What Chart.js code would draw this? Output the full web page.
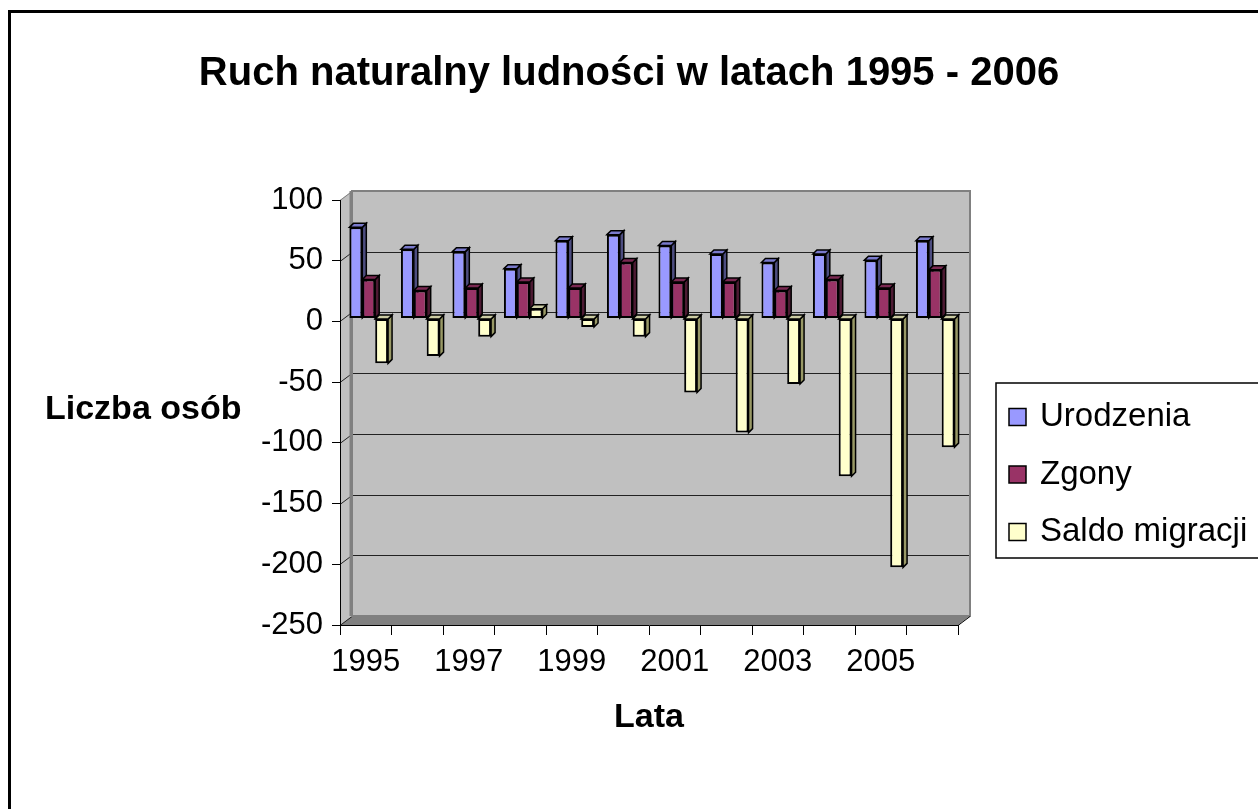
<!DOCTYPE html>
<html>
<head>
<meta charset="utf-8">
<script src="https://cdn.jsdelivr.net/npm/chart.js@4"></script>
<style>
html,body{margin:0;padding:0;background:#fff;overflow:hidden}
canvas{display:block}
</style>
</head>
<body>
<canvas id="c" width="1258" height="809" style="width:1258px;height:809px"></canvas>
<script>
// ---- data ----
const categories = ['1995','1996','1997','1998','1999','2000','2001','2002','2003','2004','2005','2006'];
const urodzenia = [75, 57, 55, 41, 64, 69, 60, 53, 46, 53, 48, 64];
const zgony = [32, 23, 25, 30, 25, 46, 30, 30, 23, 32, 25, 40];
const saldoMigracji = [-37, -31, -15, 8, -7, -15, -61, -94, -54, -130, -205, -106];
const seriesNames = ['Urodzenia', 'Zgony', 'Saldo migracji'];
const yMin = -250, yMax = 100, yStep = 50;
const titleText = 'Ruch naturalny ludności w latach 1995 - 2006';
const xTitleText = 'Lata';
const yTitleText = 'Liczba osób';

// ---- style ----
const FONT = "'Liberation Sans', Arial, sans-serif";
const frontColors = ['#9999ff', '#993366', '#ffffcc'];
const sideColors = ['#4d4d80', '#4d1a33', '#999966'];
const topColors = ['#7a7acc', '#7a2952', '#cccca3'];
const WALL = {dx: 12, dy: -9};
const BAR3D = {dx: 4, dy: -4, shiftX: 3, shiftY: -3};

const frame3d = {
  id: 'frame3d',
  beforeDraw(chart) {
    const ctx = chart.ctx;
    const a = chart.chartArea;
    const ys = chart.scales.y;
    ctx.save();
    ctx.fillStyle = '#fff';
    ctx.fillRect(0, 0, chart.width, chart.height);
    // outer frame (left & top visible)
    ctx.fillStyle = '#000';
    ctx.fillRect(8, 10, chart.width, 3);
    ctx.fillRect(8, 10, 3, chart.height);
    // left wall
    ctx.fillStyle = '#c0c0c0';
    ctx.beginPath();
    ctx.moveTo(a.left, a.top);
    ctx.lineTo(a.left + WALL.dx, a.top + WALL.dy);
    ctx.lineTo(a.left + WALL.dx, a.bottom + WALL.dy);
    ctx.lineTo(a.left, a.bottom);
    ctx.closePath();
    ctx.fill();
    // back wall
    ctx.fillRect(a.left + WALL.dx, a.top + WALL.dy, a.right - a.left, a.bottom - a.top);
    // floor
    ctx.fillStyle = '#808080';
    ctx.beginPath();
    ctx.moveTo(a.left, a.bottom);
    ctx.lineTo(a.left + WALL.dx, a.bottom + WALL.dy);
    ctx.lineTo(a.right + WALL.dx, a.bottom + WALL.dy);
    ctx.lineTo(a.right, a.bottom);
    ctx.closePath();
    ctx.fill();
    // gridlines on back wall + left wall diagonals
    ctx.lineWidth = 1;
    ys.ticks.forEach(t => {
      const y = Math.round(ys.getPixelForValue(t.value)) + 0.5;
      if (t.value > yMin && t.value < yMax) {
        ctx.strokeStyle = '#222';
        ctx.beginPath();
        ctx.moveTo(a.left + WALL.dx, y + WALL.dy);
        ctx.lineTo(a.right + WALL.dx, y + WALL.dy);
        ctx.stroke();
      }
      ctx.strokeStyle = t.value === yMax ? '#808080' : '#222';
      ctx.beginPath();
      ctx.moveTo(a.left, y);
      ctx.lineTo(a.left + WALL.dx, y + WALL.dy);
      ctx.stroke();
    });
    // wall outlines
    ctx.strokeStyle = '#808080';
    ctx.lineWidth = 2;
    ctx.strokeRect(a.left + WALL.dx, a.top + WALL.dy, a.right - a.left, a.bottom - a.top);
    ctx.lineWidth = 3;
    ctx.beginPath();
    ctx.moveTo(a.left + WALL.dx - 1, a.top + WALL.dy);
    ctx.lineTo(a.left + WALL.dx - 1, a.bottom + WALL.dy);
    ctx.stroke();
    // right end of floor edge
    ctx.strokeStyle = '#000';
    ctx.lineWidth = 1;
    ctx.beginPath();
    ctx.moveTo(a.right, a.bottom + 0.5);
    ctx.lineTo(a.right + WALL.dx, a.bottom + WALL.dy + 0.5);
    ctx.stroke();
    ctx.restore();
  },
  beforeDatasetsDraw(chart) {
    const ctx = chart.ctx;
    const n = chart.data.labels.length;
    const metas = chart.data.datasets.map((d, i) => chart.getDatasetMeta(i));
    ctx.save();
    ctx.translate(BAR3D.shiftX, BAR3D.shiftY);
    for (let i = 0; i < n; i++) {
      metas.forEach((meta, d) => {
        const el = meta.data[i];
        if (!el) return;
        const {x, y, base, width} = el.getProps(['x', 'y', 'base', 'width'], true);
        const l = x - width / 2, r = x + width / 2;
        const top = Math.min(y, base), bot = Math.max(y, base);
        ctx.lineWidth = 1.5;
        ctx.strokeStyle = '#000';
        ctx.lineJoin = 'miter';
        // side face
        ctx.fillStyle = sideColors[d];
        ctx.beginPath();
        ctx.moveTo(r, top);
        ctx.lineTo(r + BAR3D.dx, top + BAR3D.dy);
        ctx.lineTo(r + BAR3D.dx, bot + BAR3D.dy);
        ctx.lineTo(r, bot);
        ctx.closePath();
        ctx.fill(); ctx.stroke();
        // top face
        ctx.fillStyle = topColors[d];
        ctx.beginPath();
        ctx.moveTo(l, top);
        ctx.lineTo(l + BAR3D.dx, top + BAR3D.dy);
        ctx.lineTo(r + BAR3D.dx, top + BAR3D.dy);
        ctx.lineTo(r, top);
        ctx.closePath();
        ctx.fill(); ctx.stroke();
        // front face via the library element
        el.draw(ctx);
      });
    }
    ctx.restore();
    return false;
  },
  afterDraw(chart) {
    const ctx = chart.ctx;
    ctx.save();
    // y axis title (horizontal)
    ctx.fillStyle = '#000';
    ctx.font = "bold 34px " + FONT;
    ctx.textAlign = 'left';
    ctx.textBaseline = 'middle';
    ctx.fillText(yTitleText, 45, 410);
    // legend
    const L = {x: 996, y: 383, w: 280, h: 175, boxX: 1009, box: 17, first: 417, gap: 57.5, textX: 1040};
    ctx.strokeStyle = '#000';
    ctx.lineWidth = 1.5;
    ctx.strokeRect(L.x, L.y, L.w, L.h);
    ctx.font = "33px " + FONT;
    ctx.textBaseline = 'alphabetic';
    chart.data.datasets.forEach((ds, i) => {
      const cy = L.first + i * L.gap;
      ctx.fillStyle = ds.backgroundColor;
      ctx.fillRect(L.boxX, cy - L.box / 2, L.box, L.box);
      ctx.lineWidth = 1.5;
      ctx.strokeRect(L.boxX, cy - L.box / 2, L.box, L.box);
      ctx.fillStyle = '#000';
      ctx.fillText(ds.label, L.textX, cy + 9);
    });
    ctx.restore();
  }
};

new Chart(document.getElementById('c'), {
  type: 'bar',
  data: {
    labels: categories,
    datasets: [
      {label: seriesNames[0], data: urodzenia, backgroundColor: frontColors[0]},
      {label: seriesNames[1], data: zgony, backgroundColor: frontColors[1]},
      {label: seriesNames[2], data: saldoMigracji, backgroundColor: frontColors[2]}
    ]
  },
  options: {
    responsive: false,
    animation: false,
    devicePixelRatio: 1,
    layout: {padding: 0},
    datasets: {
      bar: {categoryPercentage: 0.75, barPercentage: 1.0, borderColor: '#000', borderWidth: 2, borderSkipped: false}
    },
    plugins: {
      legend: {display: false},
      tooltip: {enabled: false},
      title: {
        display: true,
        text: titleText,
        color: '#000',
        font: {family: FONT, size: 40, weight: 'bold'},
        padding: {top: 50, bottom: 102}
      }
    },
    scales: {
      x: {
        offset: true,
        grid: {display: true, drawOnChartArea: false, drawTicks: true, tickLength: 10, color: '#000', offset: true},
        border: {display: true, color: '#000', width: 1},
        ticks: {
          color: '#000', font: {family: FONT, size: 31}, padding: 9,
          autoSkip: false, maxRotation: 0,
          callback: function(v, i) { return i % 2 === 0 ? this.getLabelForValue(v) : ''; }
        },
        title: {display: true, text: xTitleText, color: '#000', font: {family: FONT, size: 34, weight: 'bold'}, padding: {top: 0, bottom: 71}},
        afterFit(s) { s.height = 184; }
      },
      y: {
        min: yMin, max: yMax,
        grid: {display: true, drawOnChartArea: false, drawTicks: true, tickLength: 8, color: '#000'},
        border: {display: true, color: '#000', width: 1},
        ticks: {stepSize: yStep, color: '#000', font: {family: FONT, size: 31}, padding: 9},
        afterFit(s) { s.width = 340; }
      },
      spacer: {
        type: 'linear', position: 'right', display: true,
        grid: {display: false}, border: {display: false}, ticks: {display: false},
        afterFit(s) { s.width = 300; }
      }
    }
  },
  plugins: [frame3d]
});
</script>
</body>
</html>
